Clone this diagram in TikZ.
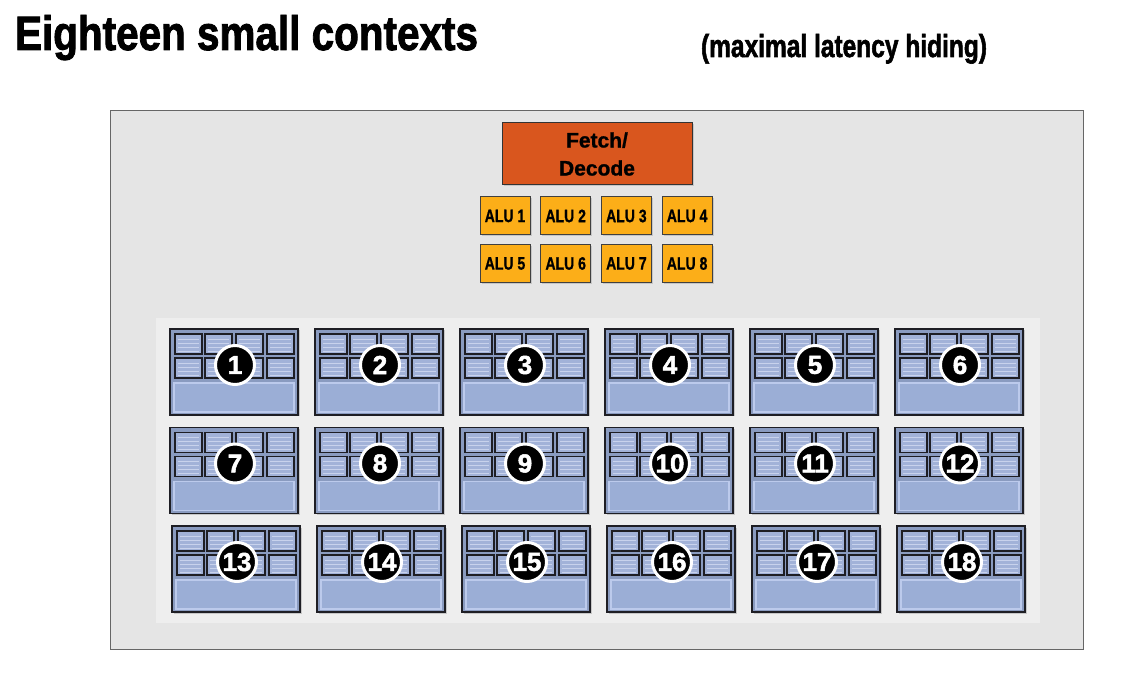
\documentclass[tikz,border=0pt]{standalone}
\usepackage{fontspec}
\usepackage{graphicx}
\setmainfont{Liberation Sans}
\newfontfamily\heavy{Liberation Sans Bold}[FakeBold=2]
\newfontfamily\semiheavy{Liberation Sans Bold}[FakeBold=1]
\usetikzlibrary{shadows}
\definecolor{outerbg}{RGB}{229,229,229}
\definecolor{innerbg}{RGB}{238,238,238}
\definecolor{fetchc}{RGB}{217,86,30}
\definecolor{aluc}{RGB}{252,174,24}
\definecolor{blockc}{RGB}{138,155,192}
\definecolor{cellc}{RGB}{162,178,216}
\definecolor{celll}{RGB}{200,210,236}
\definecolor{memc}{RGB}{155,174,214}
\definecolor{meml}{RGB}{188,202,236}
\definecolor{edgec}{RGB}{30,30,36}
\begin{document}
\begin{tikzpicture}[x=1pt,y=-1pt,
  every node/.style={inner sep=0pt, outer sep=0pt},
  corebox/.style={draw=black!60, line width=0.8pt, fill=outerbg, anchor=north west, minimum width=973pt, minimum height=539pt},
  panelbox/.style={fill=innerbg, anchor=north west, minimum width=884pt, minimum height=305pt},
  fetchbox/.style={draw=black!80, line width=1pt, fill=fetchc, minimum width=190pt, minimum height=62pt, align=center, font=\fontsize{21}{28}\selectfont\semiheavy, drop shadow={shadow xshift=1.5pt, shadow yshift=-1.5pt, opacity=0.3}},
  alubox/.style={draw=black!75, line width=1pt, fill=aluc, minimum width=50pt, minimum height=38pt, font=\fontsize{18}{18}\selectfont\semiheavy, drop shadow={shadow xshift=1.5pt, shadow yshift=-1.5pt, opacity=0.3}},
  ctxbox/.style={draw=edgec, line width=1.5pt, fill=blockc, anchor=north west, minimum width=128pt, minimum height=86pt, drop shadow={shadow xshift=1.5pt, shadow yshift=-1.5pt, opacity=0.35}},
  cellbox/.style={draw=edgec, line width=1.3pt, fill=cellc, anchor=north west, minimum width=27pt, minimum height=20pt},
  cellline/.style={draw=celll, line width=0.9pt},
  membox/.style={draw=meml, line width=1.3pt, fill=memc, anchor=north west, minimum width=120pt, minimum height=29pt},
  numc/.style={circle, draw=white, line width=3pt, fill=black, minimum size=39pt, text=white, font=\fontsize{26}{26}\selectfont\heavy}
]
\useasboundingbox (0,0) rectangle (1138,684);
\fill[white] (0,0) rectangle (1138,684);

\node[anchor=base west] (title) at (15,50) {\resizebox{463pt}{35pt}{\heavy Eighteen small contexts}};
\node[anchor=base west] (subtitle) at (701,57) {\resizebox{286pt}{23pt}{\heavy (maximal latency hiding)}};

\node[corebox] (core) at (110,110) {};
\node[panelbox] (panel) at (156,318) {};

\node[fetchbox] (fetch) at (597,154) {Fetch/\\Decode};

\foreach \i in {1,...,8} {
  \pgfmathsetmacro{\ax}{505+60.7*mod(\i-1,4)}
  \pgfmathsetmacro{\ay}{216+47.5*int((\i-1)/4)}
  \node[alubox] (alu\i) at (\ax,\ay) {\scalebox{0.78}[1]{ALU \i}};
}

\foreach \r in {0,1,2} {
  \foreach \c in {0,...,5} {
    \pgfmathtruncatemacro{\n}{\r*6+\c+1}
    \pgfmathsetmacro{\bx}{170+145*\c+(\r==2?2:0)}
    \pgfmathsetmacro{\by}{329+98.5*\r}
    \node[ctxbox] (ctx\n) at (\bx,\by) {};
    \foreach \cx [count=\k] in {5,35,66,97} {
      \foreach \cy [count=\m] in {5,29} {
        \node[cellbox] (cell\n-\k-\m) at (\bx+\cx,\by+\cy) {};
        \foreach \ly in {5,9,13,17}
          \draw[cellline] (\bx+\cx+3,\by+\cy+\ly) -- ++(21,0);
      }
    }
    \node[membox] (mem\n) at (\bx+4,\by+54) {};
    \node[numc] (num\n) at (\bx+65,\by+36) {\n};
  }
}
\end{tikzpicture}
\end{document}
